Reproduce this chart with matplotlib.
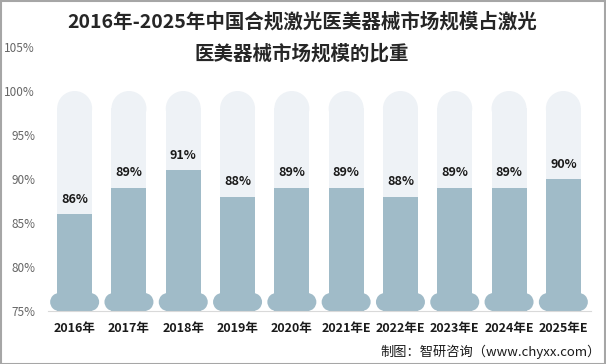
import numpy as np
import matplotlib
matplotlib.use("Agg")
from matplotlib import pyplot as plt
from matplotlib.patches import Rectangle, Ellipse

plt.rcParams['font.family'] = ['Noto Sans CJK SC', 'DejaVu Sans']

years = ["2016年", "2017年", "2018年", "2019年", "2020年",
         "2021年E", "2022年E", "2023年E", "2024年E", "2025年E"]
shares = [86, 89, 91, 88, 89, 89, 88, 89, 89, 90]
yticks = [75, 80, 85, 90, 95, 100, 105]

fill_color = '#a0bbc8'
back_color = '#eef2f6'

W, H = 606, 364
fig = plt.figure(figsize=(W / 100, H / 100), dpi=100)
ax = fig.add_axes([47.5 / W, 53 / H, 543 / W, 264 / H])
ax.set_xlim(-0.5, len(years) - 0.5)
ax.set_ylim(75, 105)

# pixel -> data scale factors
px_x = len(years) / 543.0
px_y = 30 / 264.0

bar_w = 35 * px_x
cap_h = 35 * px_y
bulb_w = 49 * px_x
bulb_h = 18 * px_y
bulb_r = 9 * px_x

for i, v in enumerate(shares):
    # background tube with round top
    ax.add_patch(Rectangle((i - bar_w / 2, 75), bar_w, 100 - cap_h / 2 - 75,
                           facecolor=back_color, edgecolor='none', zorder=1))
    ax.add_patch(Ellipse((i, 100 - cap_h / 2), bar_w, cap_h,
                         facecolor=back_color, edgecolor='none', zorder=1))
    # filled part
    ax.add_patch(Rectangle((i - bar_w / 2, 75), bar_w, v - 75,
                           facecolor=fill_color, edgecolor='none', zorder=2))
    # bulb at the base
    ax.add_patch(Rectangle((i - bulb_w / 2 + bulb_r, 75), bulb_w - 2 * bulb_r, bulb_h,
                           facecolor=fill_color, edgecolor='none', zorder=2))
    for cx in (i - bulb_w / 2 + bulb_r, i + bulb_w / 2 - bulb_r):
        ax.add_patch(Ellipse((cx, 75 + bulb_h / 2), 2 * bulb_r, bulb_h,
                             facecolor=fill_color, edgecolor='none', zorder=2))
    ax.annotate(f"{v}%", (i, v), xytext=(0, 6), textcoords='offset points',
                ha='center', va='bottom', fontsize=9, fontweight='bold',
                color='#1a1a1a', zorder=3)

ax.set_xticks(range(len(years)))
ax.set_xticklabels(years, fontsize=9, fontweight='bold', color='#1a1a1a')
ax.set_yticks(yticks)
ax.set_yticklabels([f"{t}%" for t in yticks], fontsize=8.5, color='#666666')
ax.tick_params(length=0)
ax.tick_params(axis='x', pad=8)
ax.tick_params(axis='y', pad=9)
for s in ['top', 'right', 'left']:
    ax.spines[s].set_visible(False)
ax.spines['bottom'].set_color('#d9d9d9')
ax.spines['bottom'].set_zorder(4)
ax.patch.set_visible(False)

fig.text(0.498, 1 - 22 / H, "2016年-2025年中国合规激光医美器械市场规模占激光",
         ha='center', va='center', fontsize=14, fontweight='bold', color='#262626')
fig.text(0.498, 1 - 54 / H, "医美器械市场规模的比重",
         ha='center', va='center', fontsize=14, fontweight='bold', color='#262626')
fig.text(1 - 5 / W, 1 - 352 / H, "制图：智研咨询（www.chyxx.com）",
         ha='right', va='center', fontsize=9.5, color='#1a1a1a')

fig.add_artist(Rectangle((0.5 / W, 0.5 / H), 1 - 1.5 / W, 1 - 1.5 / H,
                         transform=fig.transFigure, fill=False,
                         edgecolor='#a6a6a6', linewidth=1.5))

fig.savefig("out.png", dpi=100)
